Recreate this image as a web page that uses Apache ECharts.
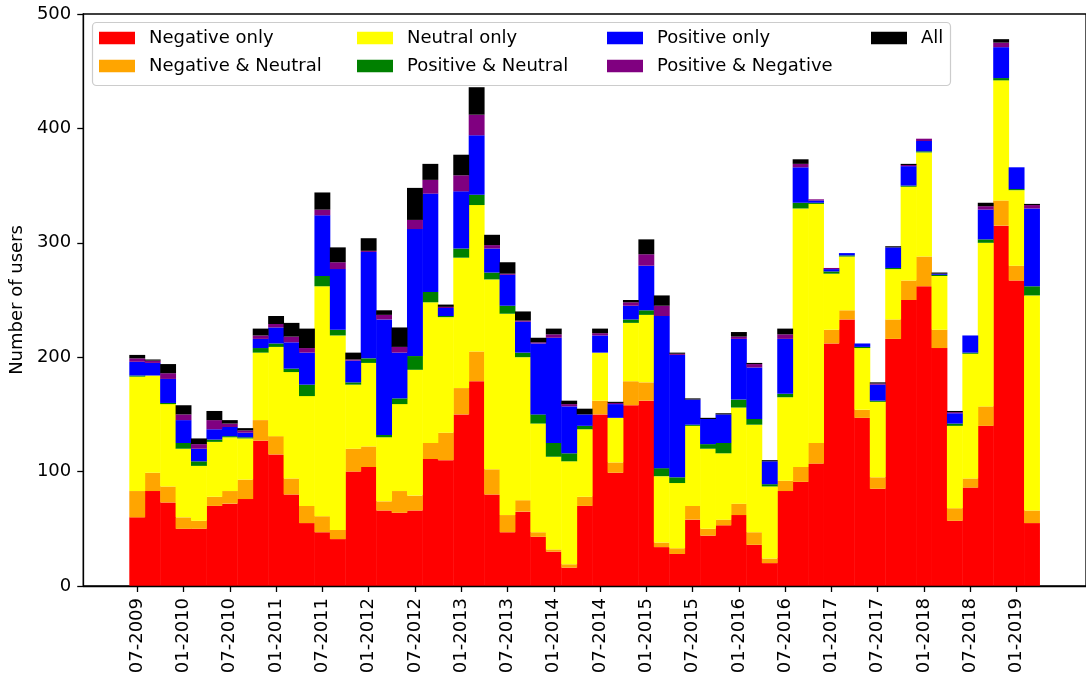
<!DOCTYPE html>
<html>
<head>
<meta charset="utf-8">
<script src="https://cdn.jsdelivr.net/npm/echarts@6/dist/echarts.min.js"></script>
<style>
html,body{margin:0;padding:0;background:#fff;}
#chart{width:1086px;height:677px;}
</style>
</head>
<body>
<div id="chart"></div>
<script>
// Two-month bins, labelled by their centre month (bin 0 = Jun-Jul 2009)
const binLabels = ["07-2009","09-2009","11-2009",
  "01-2010","03-2010","05-2010","07-2010","09-2010","11-2010",
  "01-2011","03-2011","05-2011","07-2011","09-2011","11-2011",
  "01-2012","03-2012","05-2012","07-2012","09-2012","11-2012",
  "01-2013","03-2013","05-2013","07-2013","09-2013","11-2013",
  "01-2014","03-2014","05-2014","07-2014","09-2014","11-2014",
  "01-2015","03-2015","05-2015","07-2015","09-2015","11-2015",
  "01-2016","03-2016","05-2016","07-2016","09-2016","11-2016",
  "01-2017","03-2017","05-2017","07-2017","09-2017","11-2017",
  "01-2018","03-2018","05-2018","07-2018","09-2018","11-2018",
  "01-2019","03-2019"];
const tickLabels = ["07-2009","01-2010","07-2010","01-2011","07-2011","01-2012","07-2012","01-2013","07-2013","01-2014",
  "07-2014","01-2015","07-2015","01-2016","07-2016","01-2017","07-2017","01-2018","07-2018","01-2019"];
const seriesNames = ["Negative only","Negative & Neutral","Neutral only","Positive & Neutral","Positive only","Positive & Negative","All"];

const negOnly = [60,83,73,50,50,70,72,76,127,115,80,55,47,41,100,104,66,64,66,111,110,150,179,80,47,65,43,30,16,70,150,99,158,162,34,28,58,44,53,62,36,20,83,91,107,212,233,147,85,216,250,262,208,57,86,140,315,267,55];
const negNeu  = [23,16,14,10,7,8,11,17,18,16,14,15,14,8,20,18,8,19,13,14,24,23,26,22,15,10,4,2,3,8,12,9,21,16,4,5,12,6,5,10,11,4,9,13,18,12,8,7,10,17,17,26,16,11,8,17,22,13,11];
const neuOnly = [100,85,72,60,48,48,47,36,59,78,93,96,201,170,56,73,56,76,110,123,101,114,128,166,176,125,95,81,90,59,42,39,51,59,58,57,70,70,58,84,94,63,73,226,209,49,47,54,66,44,82,91,47,72,109,143,105,66,188];
const posNeu  = [1,0,1,5,4,2,1,1,4,3,3,10,9,5,2,4,2,5,12,9,1,8,9,6,7,4,8,12,7,3,0,0,3,4,7,5,1,4,9,7,5,2,3,5,1,2,1,1,1,1,1,1,1,2,1,3,2,1,8];
const posOnly = [12,11,21,20,11,9,8,4,8,14,23,28,53,53,19,93,101,40,111,86,7,50,52,21,27,27,62,92,41,10,15,12,12,39,133,107,22,22,25,53,45,20,48,31,2,2,2,3,14,18,17,9,1,9,15,26,27,19,68];
const posNeg  = [3,2,5,5,4,8,3,2,3,3,5,4,5,6,1,1,4,5,8,12,1,14,18,3,1,1,1,3,2,0,2,1,3,10,9,1,0,0,0,2,3,0,4,3,1,1,0,0,1,0,1,2,0,1,0,3,4,0,3];
const allSent = [3,1,8,8,5,8,3,2,6,7,12,17,15,13,6,11,4,17,28,14,2,18,24,9,10,8,4,5,3,5,4,1,2,13,9,1,1,1,1,4,1,1,5,4,0,0,0,0,1,1,1,0,1,1,0,3,3,0,1];

const colors = ["#ff0000","#ffa500","#ffff00","#008000","#0000ff","#800080","#000000"];
const values = [negOnly, negNeu, neuOnly, posNeu, posOnly, posNeg, allSent];

// empty slots either side reproduce the axis margins around the bars
const padLeft = ["pL1","pL2","pL3"], padRight = ["pR1","pR2","pR3"];
const axisCats = padLeft.concat(binLabels, padRight);

const bandPx = 15.488;
const gridLeft = 82;
const gridRight = 1086 - gridLeft - bandPx * axisCats.length;

const FONT = "DejaVu Sans";
const chart = echarts.init(document.getElementById('chart'), null, {renderer: 'canvas'});

const series = seriesNames.map((name, s) => ({
  name: name,
  type: 'bar',
  stack: 'users',
  barWidth: bandPx + 0.4,
  itemStyle: {color: colors[s]},
  emphasis: {disabled: true},
  data: values[s].map((v, i) => [binLabels[i], v])
}));

function legendCol(names, left) {
  return {
    orient: 'vertical', left: left, top: 29, padding: 0, itemGap: 10,
    itemWidth: 36, itemHeight: 12.6, icon: 'rect', z: 6,
    selectedMode: false,
    textStyle: {fontFamily: FONT, fontSize: 18, color: '#000', lineHeight: 18, padding: [0,0,0,9]},
    data: names
  };
}

const showTick = (idx, val) => tickLabels.indexOf(val) >= 0;

chart.setOption({
  animation: false,
  backgroundColor: '#fff',
  textStyle: {fontFamily: FONT},
  color: colors,
  grid: {left: gridLeft, right: gridRight, top: 14, bottom: 91, show: true, borderColor: '#000', borderWidth: 1.3, backgroundColor: 'transparent'},
  legend: [
    legendCol([seriesNames[0], seriesNames[1]], 99),
    legendCol([seriesNames[2], seriesNames[3]], 357),
    legendCol([seriesNames[4], seriesNames[5]], 607),
    legendCol([seriesNames[6]], 871)
  ],
  graphic: [{
    type: 'rect', z: 5, silent: true,
    shape: {x: 92.5, y: 22.5, width: 858, height: 63, r: 4},
    style: {fill: 'rgba(255,255,255,0.8)', stroke: '#cccccc', lineWidth: 1.2}
  }],
  xAxis: {
    type: 'category', data: axisCats, boundaryGap: true, z: 10,
    splitLine: {show: false},
    axisLine: {show: true, onZero: false, lineStyle: {color: '#000', width: 1.3}},
    axisTick: {show: true, alignWithLabel: true, interval: showTick, length: 6, lineStyle: {color: '#000', width: 1.3}},
    axisLabel: {
      interval: showTick, rotate: 90, margin: 12,
      fontSize: 18, color: '#000', fontFamily: FONT
    }
  },
  yAxis: {
    type: 'value', min: 0, max: 500, interval: 100, z: 10,
    name: 'Number of users', nameLocation: 'middle', nameGap: 56,
    nameTextStyle: {fontFamily: FONT, fontSize: 18, color: '#000'},
    splitLine: {show: false},
    axisLine: {show: true, onZero: false, lineStyle: {color: '#000', width: 1.3}},
    axisTick: {show: true, length: 6, lineStyle: {color: '#000', width: 1.3}},
    axisLabel: {fontSize: 18, color: '#000', margin: 12, fontFamily: FONT}
  },
  series: series
});
</script>
</body>
</html>
